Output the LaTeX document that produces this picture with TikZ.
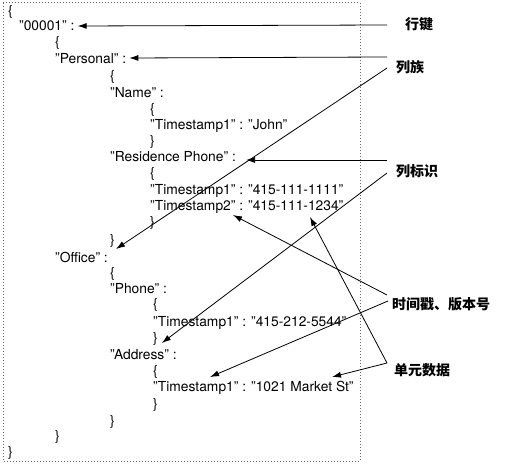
\documentclass[tikz,border=0pt]{standalone}
\usepackage{fontspec}
\setmainfont{TeX Gyre Heros}
\newfontfamily\cjk{Noto Sans CJK SC}
\usetikzlibrary{arrows.meta, calc}
\tikzset{
    code/.style={anchor=west, inner sep=0pt, font=\fontsize{13.8}{16}\selectfont},
    tag/.style={anchor=west, inner sep=0pt, font=\cjk\bfseries\fontsize{14}{16}\selectfont},
    pointer/.style={-{Latex[length=9pt,width=6pt]}, line width=0.8pt},
    frame/.style={dash pattern=on 1pt off 2pt, line width=1pt, black!60},
}

\begin{document}
\begin{tikzpicture}[x=1pt, y=-1pt]
    \useasboundingbox (0,0) rectangle (521,465);
    \draw[frame] (3,3) rectangle (360,461);

    \node[code] (open0)     at (8,12)   {\{};
    \node[code] (row)       at (19,26)  {"00001" :};
    \node[code] (open1)     at (55,43)  {\{};
    \node[code] (personal)  at (55,59)  {"Personal" :};
    \node[code] (open2)     at (110,77) {\{};
    \node[code] (name)      at (110,93) {"Name" :};
    \node[code] (open3)     at (150,110) {\{};
    \node[code] (john)      at (150,126) {"Timestamp1" : "John"};
    \node[code] (close3)    at (150,142) {\}};
    \node[code] (residence) at (110,157) {"Residence Phone" :};
    \node[code] (open4)     at (150,174) {\{};
    \node[code] (res1)      at (150,191) {"Timestamp1" : "415-111-1111"};
    \node[code] (res2)      at (150,207) {"Timestamp2" : "415-111-1234"};
    \node[code] (close4)    at (150,223) {\}};
    \node[code] (close2)    at (110,241) {\}};
    \node[code] (office)    at (55,257) {"Office" :};
    \node[code] (open5)     at (110,274) {\{};
    \node[code] (phone)     at (110,289) {"Phone" :};
    \node[code] (open6)     at (153,305) {\{};
    \node[code] (ph1)       at (153,323) {"Timestamp1" : "415-212-5544"};
    \node[code] (close6)    at (153,339) {\}};
    \node[code] (address)   at (110,355) {"Address" :};
    \node[code] (open7)     at (153,372) {\{};
    \node[code] (addr1)     at (153,388) {"Timestamp1" : "1021 Market St"};
    \node[code] (close7)    at (153,405) {\}};
    \node[code] (close5)    at (110,422) {\}};
    \node[code] (close1)    at (55,437) {\}};
    \node[code] (close0)    at (8,453)  {\}};

    \node[tag] (rowkey)  at (405,24)  {行键};
    \node[tag] (family)  at (396,67)  {列族};
    \node[tag] (qual)    at (396,171) {列标识};
    \node[tag] (version) at (392,304) {时间戳、版本号};
    \node[tag] (cell)    at (394,370) {单元数据};

    \coordinate (rowkeyA)  at (387,25);
    \coordinate (familyA)  at (387,57);
    \coordinate (familyB)  at (387,68);
    \coordinate (qualA)    at (387,160);
    \coordinate (qualB)    at (387,173);
    \coordinate (versionA) at (387,295);
    \coordinate (versionB) at (388,301);
    \coordinate (cellA)    at (387,363);

    \draw[pointer] (rowkeyA)  -- ($(row.east)+(3,0)$);
    \draw[pointer] (familyA)  -- ($(personal.east)+(3,-1)$);
    \draw[pointer] (familyB)  -- ($(office.east)+(8,-8)$);
    \draw[pointer] (qualA)    -- ($(residence.east)+(10,3)$);
    \draw[pointer] (qualB)    -- ($(address.east)+(-15,-12)$);
    \draw[pointer] (versionA) -- ($(res2.west)+(83,8)$);
    \draw[pointer] (versionB) -- ($(addr1.west)+(57,-11)$);
    \draw[pointer] (cellA)    -- ($(res2.west)+(160,10)$);
    \draw[pointer] (cellA)    -- ($(addr1.west)+(179,-11)$);
\end{tikzpicture}
\end{document}
